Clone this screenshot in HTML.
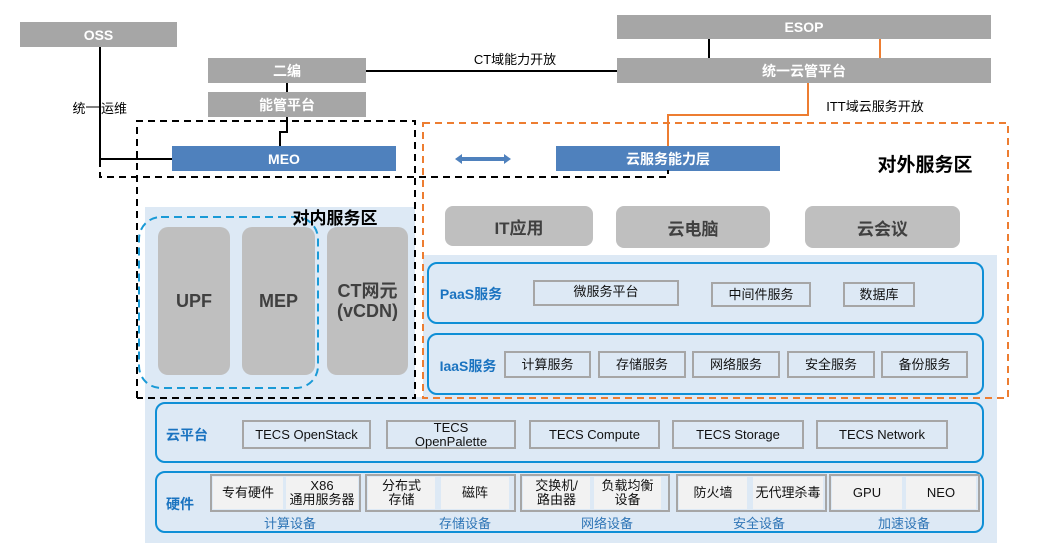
<!DOCTYPE html>
<html><head><meta charset="utf-8"><style>
body{margin:0;width:1061px;height:559px;background:#fff;position:relative;overflow:hidden;font-family:"Liberation Sans","Noto Sans CJK SC",sans-serif;}
.a{position:absolute;box-sizing:border-box;display:flex;align-items:center;justify-content:center;text-align:center;}
.g{background:#a6a6a6;color:#fff;font-weight:bold;font-size:14px;}
.b{background:#4f81bd;color:#fff;font-weight:bold;font-size:14px;}
.r{background:#bfbfbf;color:#404040;font-weight:bold;border-radius:10px;}
.p{border:2px solid #0f8fd6;border-radius:10px;}
.s{border:2px solid #a6a6a6;font-size:13px;color:#111;line-height:14px;}
.h{background:#f2f2f2;font-size:13px;color:#111;line-height:14px;}
.c{color:#2e75b6;font-size:13px;}
.L{color:#1a73c0;font-weight:bold;font-size:14px;}
</style></head><body>
<div class="a" style="left:145px;top:207px;width:270px;height:190px;background:#dde9f5"></div>
<div class="a" style="left:423px;top:255px;width:574px;height:145px;background:#dde9f5"></div>
<div class="a" style="left:145px;top:397px;width:852px;height:146px;background:#dde9f5"></div>

<div class="a g" style="left:20px;top:22px;width:157px;height:25px">OSS</div>
<div class="a g" style="left:208px;top:58px;width:158px;height:25px">二编</div>
<div class="a g" style="left:208px;top:92px;width:158px;height:25px">能管平台</div>
<div class="a g" style="left:617px;top:15px;width:374px;height:24px">ESOP</div>
<div class="a g" style="left:617px;top:58px;width:374px;height:25px">统一云管平台</div>
<div class="a b" style="left:172px;top:146px;width:224px;height:25px">MEO</div>
<div class="a b" style="left:556px;top:146px;width:224px;height:25px">云服务能力层</div>

<svg style="position:absolute;left:0;top:0" width="1061" height="559">
<g stroke="#000" stroke-width="2" fill="none">
<path d="M100 47V159H172"/>
<path d="M287 83V92M287 117V132H280V146"/>
<path d="M366 71H617"/>
<path d="M709 39V58"/>
</g>
<line x1="86" y1="107" x2="100" y2="107" stroke="#000" stroke-width="1"/>
<g stroke="#ed7d31" stroke-width="2" fill="none">
<path d="M880 39V58"/>
<path d="M808 83V115H668V146"/>
<rect x="423" y="123" width="585" height="275" stroke-dasharray="7,5"/>
</g>
<g stroke="#000" stroke-width="2" fill="none" stroke-dasharray="7,5">
<path d="M137 398V121H415V398H137"/>
<path d="M100 160V177H668V170"/>
</g>
<rect x="139" y="217" width="179" height="171" rx="22" fill="none" stroke="#1a9ad6" stroke-width="2" stroke-dasharray="8,5"/>
<g fill="#4f81bd"><rect x="460" y="157" width="46" height="4"/><path d="M455 159l7-5v10zM511 159l-7-5v10z"/></g>
</svg>

<div class="a" style="left:72px;top:98px;width:14px;height:18px;font-size:13px">统</div>
<div class="a" style="left:100px;top:98px;width:28px;height:18px;font-size:13px">运维</div>
<div class="a" style="left:455px;top:49px;width:120px;height:18px;font-size:13px">CT域能力开放</div>
<div class="a" style="left:815px;top:96px;width:120px;height:18px;font-size:13px">ITT域云服务开放</div>
<div class="a" style="left:860px;top:150px;width:130px;height:26px;font-size:19px;font-weight:bold">对外服务区</div>
<div class="a" style="left:280px;top:204px;width:110px;height:24px;font-size:17px;font-weight:bold">对内服务区</div>

<div class="a r" style="left:158px;top:227px;width:72px;height:148px;font-size:18px">UPF</div>
<div class="a r" style="left:242px;top:227px;width:73px;height:148px;font-size:18px">MEP</div>
<div class="a r" style="left:327px;top:227px;width:81px;height:148px;font-size:18px;line-height:20px">CT网元<br>(vCDN)</div>
<div class="a r" style="left:445px;top:206px;width:148px;height:40px;font-size:17px;border-radius:8px">IT应用</div>
<div class="a r" style="left:616px;top:206px;width:154px;height:42px;font-size:17px;border-radius:8px">云电脑</div>
<div class="a r" style="left:805px;top:206px;width:155px;height:42px;font-size:17px;border-radius:8px">云会议</div>

<div class="a p" style="left:427px;top:262px;width:557px;height:62px"></div>
<div class="a L" style="left:436px;top:284px;width:70px;height:20px">PaaS服务</div>
<div class="a s" style="left:533px;top:280px;width:146px;height:26px;align-items:flex-start;padding-top:3px">微服务平台</div>
<div class="a s" style="left:711px;top:282px;width:100px;height:25px">中间件服务</div>
<div class="a s" style="left:843px;top:282px;width:72px;height:25px">数据库</div>

<div class="a p" style="left:427px;top:333px;width:557px;height:62px"></div>
<div class="a L" style="left:436px;top:356px;width:64px;height:20px">IaaS服务</div>
<div class="a s" style="left:504px;top:351px;width:87px;height:27px">计算服务</div>
<div class="a s" style="left:598px;top:351px;width:88px;height:27px">存储服务</div>
<div class="a s" style="left:692px;top:351px;width:88px;height:27px">网络服务</div>
<div class="a s" style="left:787px;top:351px;width:88px;height:27px">安全服务</div>
<div class="a s" style="left:881px;top:351px;width:87px;height:27px">备份服务</div>

<div class="a p" style="left:155px;top:402px;width:829px;height:61px"></div>
<div class="a L" style="left:162px;top:425px;width:50px;height:20px">云平台</div>
<div class="a s" style="left:242px;top:420px;width:129px;height:29px">TECS OpenStack</div>
<div class="a s" style="left:386px;top:420px;width:130px;height:29px">TECS<br>OpenPalette</div>
<div class="a s" style="left:529px;top:420px;width:131px;height:29px">TECS Compute</div>
<div class="a s" style="left:672px;top:420px;width:132px;height:29px">TECS Storage</div>
<div class="a s" style="left:816px;top:420px;width:132px;height:29px">TECS Network</div>

<div class="a p" style="left:155px;top:471px;width:829px;height:62px"></div>
<div class="a L" style="left:160px;top:494px;width:40px;height:20px">硬件</div>
<div class="a s" style="left:210px;top:474px;width:151px;height:38px"></div>
<div class="a s" style="left:365px;top:474px;width:151px;height:38px"></div>
<div class="a s" style="left:520px;top:474px;width:150px;height:38px"></div>
<div class="a s" style="left:676px;top:474px;width:151px;height:38px"></div>
<div class="a s" style="left:829px;top:474px;width:151px;height:38px"></div>
<div class="a h" style="left:213px;top:477px;width:70px;height:32px">专有硬件</div>
<div class="a h" style="left:286px;top:477px;width:72px;height:32px">X86<br>通用服务器</div>
<div class="a h" style="left:368px;top:477px;width:67px;height:32px">分布式<br>存储</div>
<div class="a h" style="left:441px;top:477px;width:68px;height:32px">磁阵</div>
<div class="a h" style="left:523px;top:477px;width:67px;height:32px">交换机/<br>路由器</div>
<div class="a h" style="left:594px;top:477px;width:67px;height:32px">负载均衡<br>设备</div>
<div class="a h" style="left:679px;top:477px;width:68px;height:32px">防火墙</div>
<div class="a h" style="left:753px;top:477px;width:70px;height:32px">无代理杀毒</div>
<div class="a h" style="left:832px;top:477px;width:70px;height:32px">GPU</div>
<div class="a h" style="left:906px;top:477px;width:70px;height:32px">NEO</div>
<div class="a c" style="left:250px;top:514px;width:80px;height:16px">计算设备</div>
<div class="a c" style="left:425px;top:514px;width:80px;height:16px">存储设备</div>
<div class="a c" style="left:567px;top:514px;width:80px;height:16px">网络设备</div>
<div class="a c" style="left:719px;top:514px;width:80px;height:16px">安全设备</div>
<div class="a c" style="left:864px;top:514px;width:80px;height:16px">加速设备</div>
</body></html>
